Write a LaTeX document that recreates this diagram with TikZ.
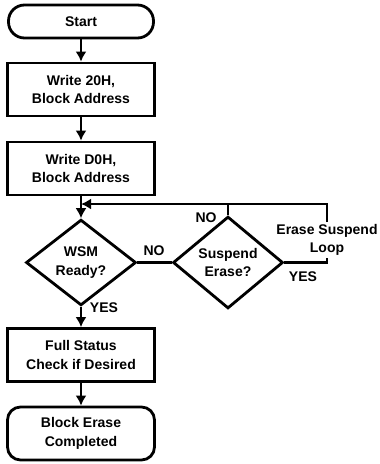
\documentclass[tikz,border=0pt]{standalone}
\usepackage{fontspec}
\setmainfont{Liberation Sans}
\usepackage{tikz}
\usetikzlibrary{shapes.geometric,arrows.meta,calc}

\begin{document}
\begin{tikzpicture}[
  x=1pt, y=1pt,
  font=\fontsize{14}{18.5}\selectfont\bfseries,
]

  \tikzstyle{termnode}=[draw,rectangle,line width=2.8pt,minimum width=145pt,minimum height=33pt,rounded corners=16pt,align=center]
  \tikzstyle{endnode}=[draw,rectangle,line width=2.8pt,minimum width=147pt,minimum height=53pt,rounded corners=13pt,align=center]
  \tikzstyle{procnode}=[draw,rectangle,line width=2.8pt,minimum width=147pt,minimum height=53pt,align=center]
  \tikzstyle{decnode}=[draw,diamond,line width=2.8pt,minimum width=110pt,minimum height=69pt,inner sep=1pt,align=center,node distance=147pt]

  \tikzstyle{pointer}=[draw,->,>={Latex[length=10pt,width=11pt]},line width=2.2pt]
  \tikzstyle{wire}=[draw,line width=2.2pt]
  \tikzstyle{ynlab}=[inner sep=0pt]

  \useasboundingbox (0,0) rectangle (380,-464);

  % nodes
  \node[termnode] (start) at (81,-21.5) {Start};
  \node[procnode] (write20) [below of=start,node distance=68pt] {Write 20H,\\Block Address};
  \node[procnode] (writeD0) [below of=write20,node distance=79pt] {Write D0H,\\Block Address};
  \node[decnode] (wsm) [below of=writeD0,node distance=94pt] {WSM\\Ready?};
  \node[decnode] (susp) [right of=wsm] {Suspend\\Erase?};
  \node[procnode] (status) [below of=wsm,node distance=92.5pt] {Full Status\\Check if Desired};
  \node[endnode] (done) [below of=status,node distance=78.5pt] {Block Erase\\Completed};

  \coordinate (join) at (81,-204);
  \node[align=center,inner sep=2pt] (looplab) at (327,-240) {Erase Suspend\\Loop};

  \node[ynlab] (wsmno) at (154,-251) {NO};
  \node[ynlab] (wsmyes) at (104,-308) {YES};
  \node[ynlab] (suspno) at (206,-218) {NO};
  \node[ynlab] (suspyes) at (303,-277) {YES};

  % pointers
  \draw[pointer] (start)   -- (write20);
  \draw[pointer] (write20) -- (writeD0);
  \draw[pointer] (writeD0) -- (wsm);
  \draw[wire]    (wsm)     -- (susp);
  \draw[pointer] (wsm)     -- (status);
  \draw[pointer] (status)  -- (done);

  \draw[wire]    (susp.north) -- (susp.north |- join);
  \draw[wire]    (susp.east)  -| (looplab.south);
  \draw[pointer] (looplab.north) |- (join);

\end{tikzpicture}
\end{document}
